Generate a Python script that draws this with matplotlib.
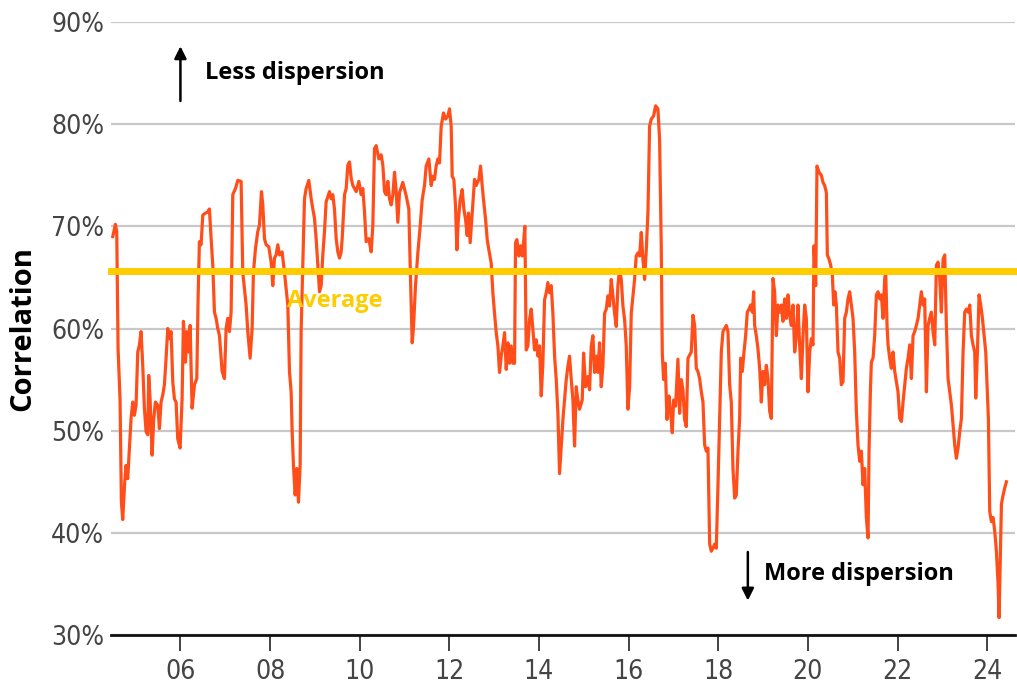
import matplotlib.pyplot as plt
from matplotlib.ticker import FuncFormatter

# rolling correlation (decimal year, percent)
dates = [
    2004.490, 2004.549, 2004.579, 2004.609, 2004.653, 2004.683, 2004.713, 2004.757, 2004.787, 2004.824,
    2004.862, 2004.899, 2004.936, 2004.973, 2005.010, 2005.048, 2005.085, 2005.122, 2005.159, 2005.196,
    2005.234, 2005.271, 2005.293, 2005.323, 2005.368, 2005.405, 2005.442, 2005.494, 2005.531, 2005.568,
    2005.606, 2005.643, 2005.680, 2005.717, 2005.754, 2005.792, 2005.829, 2005.866, 2005.903, 2005.940,
    2005.993, 2006.037, 2006.067, 2006.112, 2006.141, 2006.186, 2006.216, 2006.260, 2006.313, 2006.365,
    2006.394, 2006.424, 2006.461, 2006.499, 2006.558, 2006.610, 2006.647, 2006.685, 2006.722, 2006.759,
    2006.796, 2006.833, 2006.871, 2006.930, 2006.982, 2007.019, 2007.057, 2007.094, 2007.131, 2007.168,
    2007.228, 2007.280, 2007.354, 2007.391, 2007.429, 2007.466, 2007.503, 2007.555, 2007.600, 2007.629,
    2007.674, 2007.726, 2007.763, 2007.808, 2007.838, 2007.875, 2007.912, 2007.972, 2008.024, 2008.061,
    2008.098, 2008.135, 2008.173, 2008.210, 2008.269, 2008.321, 2008.359, 2008.396, 2008.433, 2008.470,
    2008.493, 2008.522, 2008.560, 2008.597, 2008.634, 2008.671, 2008.693, 2008.731, 2008.768, 2008.805,
    2008.865, 2008.917, 2008.954, 2008.991, 2009.028, 2009.065, 2009.103, 2009.140, 2009.177, 2009.214,
    2009.251, 2009.326, 2009.363, 2009.400, 2009.437, 2009.475, 2009.512, 2009.549, 2009.586, 2009.609,
    2009.661, 2009.698, 2009.735, 2009.772, 2009.810, 2009.847, 2009.921, 2009.981, 2010.033, 2010.070,
    2010.107, 2010.144, 2010.204, 2010.256, 2010.293, 2010.330, 2010.368, 2010.427, 2010.479, 2010.516,
    2010.554, 2010.591, 2010.628, 2010.665, 2010.702, 2010.740, 2010.777, 2010.814, 2010.851,
    2010.888, 2010.962, 2011.037, 2011.096, 2011.134, 2011.171, 2011.201, 2011.245, 2011.297, 2011.349,
    2011.394, 2011.446, 2011.483, 2011.543, 2011.595, 2011.632, 2011.669, 2011.706, 2011.744, 2011.781,
    2011.818, 2011.870, 2011.915, 2011.967, 2012.004, 2012.041, 2012.064, 2012.101, 2012.138, 2012.168,
    2012.197, 2012.242, 2012.287, 2012.324, 2012.361, 2012.398, 2012.428, 2012.465, 2012.510, 2012.562,
    2012.599, 2012.659, 2012.696, 2012.733, 2012.763, 2012.808, 2012.845, 2012.882, 2012.934, 2012.971,
    2013.008, 2013.046, 2013.083, 2013.120, 2013.157, 2013.194, 2013.232, 2013.269, 2013.306, 2013.343,
    2013.380, 2013.418, 2013.455, 2013.477, 2013.507, 2013.552, 2013.589, 2013.626, 2013.656, 2013.685,
    2013.715, 2013.752, 2013.790, 2013.827, 2013.864, 2013.901, 2013.938, 2013.976, 2014.013, 2014.050,
    2014.087, 2014.124, 2014.162, 2014.199, 2014.236, 2014.273, 2014.310, 2014.348, 2014.385, 2014.422,
    2014.459, 2014.496, 2014.534, 2014.571, 2014.608, 2014.645, 2014.682, 2014.720, 2014.757, 2014.794,
    2014.831, 2014.868, 2014.906, 2014.965, 2014.995, 2015.040, 2015.092, 2015.129, 2015.166, 2015.203,
    2015.240, 2015.278, 2015.315, 2015.352, 2015.389, 2015.426, 2015.464, 2015.501, 2015.538, 2015.575,
    2015.612, 2015.650, 2015.687, 2015.724, 2015.761, 2015.798, 2015.836, 2015.873, 2015.910, 2015.947,
    2015.984, 2016.022, 2016.059, 2016.096, 2016.133, 2016.170, 2016.208, 2016.245, 2016.282, 2016.319,
    2016.356, 2016.394, 2016.431, 2016.468, 2016.505, 2016.557, 2016.602, 2016.654, 2016.691, 2016.728,
    2016.751, 2016.780, 2016.818, 2016.855, 2016.900, 2016.929, 2016.974, 2017.004, 2017.048, 2017.100,
    2017.138, 2017.175, 2017.212, 2017.249, 2017.286,
    2017.324, 2017.398, 2017.436, 2017.473, 2017.510, 2017.547, 2017.584, 2017.622, 2017.659, 2017.696,
    2017.733, 2017.770, 2017.808, 2017.845, 2017.882, 2017.919, 2017.956, 2017.994, 2018.031, 2018.068,
    2018.105, 2018.142, 2018.180, 2018.217, 2018.254, 2018.291, 2018.328, 2018.366, 2018.403, 2018.440,
    2018.477, 2018.500, 2018.537, 2018.574, 2018.611, 2018.648, 2018.686, 2018.723, 2018.760, 2018.790,
    2018.812, 2018.849, 2018.886, 2018.924, 2018.961, 2018.998, 2019.035, 2019.072, 2019.110, 2019.147,
    2019.184, 2019.221, 2019.258, 2019.296, 2019.333, 2019.370, 2019.407, 2019.444, 2019.482, 2019.519,
    2019.556, 2019.593, 2019.630, 2019.668, 2019.705, 2019.742, 2019.779, 2019.816, 2019.854, 2019.891,
    2019.928, 2019.965, 2020.002, 2020.040, 2020.077, 2020.114, 2020.136, 2020.174, 2020.203, 2020.248,
    2020.300, 2020.337, 2020.374, 2020.412, 2020.434, 2020.471, 2020.508, 2020.546, 2020.575, 2020.605,
    2020.635, 2020.672, 2020.709, 2020.746, 2020.784, 2020.821, 2020.858, 2020.895, 2020.932, 2020.970,
    2021.007, 2021.044, 2021.081, 2021.118, 2021.156, 2021.193, 2021.230, 2021.267, 2021.304, 2021.342,
    2021.364, 2021.394, 2021.416, 2021.453, 2021.490, 2021.528, 2021.565, 2021.602, 2021.639, 2021.676,
    2021.714, 2021.736, 2021.766, 2021.788, 2021.825, 2021.862, 2021.900, 2021.937, 2021.974, 2022.011,
    2022.048, 2022.086, 2022.123, 2022.160, 2022.197, 2022.234, 2022.272, 2022.309, 2022.346, 2022.383,
    2022.420, 2022.458, 2022.495, 2022.532, 2022.569, 2022.606, 2022.644, 2022.681, 2022.718, 2022.755,
    2022.792, 2022.830, 2022.867, 2022.904, 2022.941, 2022.978, 2023.016, 2023.053, 2023.090, 2023.127,
    2023.164, 2023.202, 2023.239, 2023.276, 2023.313, 2023.350, 2023.388, 2023.425, 2023.462, 2023.499,
    2023.536, 2023.574, 2023.611, 2023.648, 2023.685, 2023.722, 2023.745, 2023.782, 2023.819, 2023.856,
    2023.894, 2023.931, 2023.968, 2023.998, 2024.027, 2024.057, 2024.094, 2024.131, 2024.168, 2024.206,
    2024.243, 2024.265, 2024.295, 2024.318, 2024.355, 2024.392, 2024.429,
]
correlation = [
    69.0, 70.2, 69.5, 58.0, 53.0, 43.0, 41.3, 45.0, 46.6, 45.3,
    48.3, 51.2, 52.8, 51.5, 52.5, 57.7, 58.4, 59.7, 56.4, 52.2,
    49.9, 49.6, 55.4, 53.1, 47.6, 51.2, 52.8, 52.5, 50.2, 52.8,
    53.5, 54.5, 57.1, 60.0, 59.0, 59.7, 54.8, 53.1, 52.8, 49.2,
    48.3, 53.1, 60.7, 56.7, 59.7, 57.7, 60.3, 52.2, 54.5, 55.1,
    62.9, 68.5, 68.2, 71.1, 71.3, 71.4, 71.7, 68.8, 66.2, 61.6,
    61.0, 60.0, 59.3, 55.8, 55.1, 60.0, 61.0, 59.7, 61.6, 73.1,
    73.7, 74.5, 74.4, 65.5, 63.9, 62.3, 59.7, 57.1, 60.0, 65.5,
    67.8, 69.5, 70.1, 73.4, 72.1, 68.8, 68.2, 68.0, 66.5, 64.2,
    66.9, 67.2, 68.2, 67.2, 67.5, 65.5, 63.9, 62.3, 55.8, 53.8,
    49.9, 46.6, 43.7, 46.3, 43.0, 46.6, 59.7, 66.2, 72.7, 73.7,
    74.5, 72.7, 71.7, 70.8, 68.8, 66.2, 63.6, 64.2, 67.2, 69.5,
    72.4, 73.4, 72.7, 73.1, 71.7, 68.8, 67.5, 66.9, 67.5, 68.8,
    73.1, 73.7, 76.0, 76.3, 74.7, 74.0, 73.4, 74.4, 73.1, 73.7,
    71.4, 68.5, 68.8, 67.5, 70.1, 77.6, 77.9, 76.6, 77.0, 76.0,
    73.4, 73.1, 74.4, 72.7, 72.1, 73.1, 75.3, 73.4, 70.4,
    73.3, 74.3, 73.0, 71.7, 64.8, 58.6, 60.2, 64.2, 67.4, 70.0,
    72.6, 74.0, 75.9, 76.6, 74.0, 74.9, 74.6, 75.9, 76.6, 76.2,
    79.8, 81.1, 80.5, 80.8, 81.5, 79.8, 74.9, 74.6, 72.0, 67.7,
    70.4, 72.6, 73.6, 71.7, 70.7, 69.1, 71.3, 68.4, 71.3, 74.6,
    74.0, 74.6, 75.9, 74.0, 72.6, 70.7, 68.7, 67.7, 66.4, 63.5,
    61.5, 59.6, 58.3, 55.7, 57.3, 58.3, 59.6, 56.0, 58.6, 56.6,
    58.3, 56.6, 56.6, 68.4, 68.7, 67.1, 68.1, 67.1, 68.4, 70.0,
    57.9, 58.3, 60.9, 61.9, 59.9, 57.9, 58.9, 57.3, 58.3, 53.4,
    56.6, 62.8, 63.5, 64.5, 63.5, 64.2, 61.5, 57.3, 55.0, 51.7,
    45.8, 48.5, 51.1, 53.0, 55.0, 56.3, 57.3, 55.0, 53.0, 48.5,
    54.3, 53.0, 52.1, 53.0, 57.6, 54.3, 55.3, 54.0, 58.3, 59.3,
    55.7, 57.3, 55.7, 58.6, 54.3, 56.3, 61.5, 61.9, 63.2, 62.2,
    64.8, 63.2, 61.5, 60.2, 64.2, 65.8, 64.8, 62.2, 60.9, 58.3,
    52.1, 54.3, 61.5, 63.2, 64.8, 67.1, 67.4, 67.1, 69.4, 66.8,
    64.8, 67.7, 71.3, 79.8, 80.5, 80.8, 81.8, 81.5, 78.5, 68.1,
    57.6, 55.0, 56.6, 51.1, 53.4, 52.1, 49.8, 53.0, 52.4, 57.0,
    51.7, 55.0, 54.0, 51.1, 50.4,
    57.1, 57.7, 61.3, 60.3, 56.1, 55.8, 55.1, 53.8, 52.8, 48.6,
    48.0, 48.3, 38.9, 38.2, 38.5, 38.9, 38.5, 44.7, 51.2, 57.7,
    59.7, 60.0, 60.3, 59.7, 54.5, 52.8, 46.3, 43.4, 43.7, 48.0,
    51.2, 57.1, 55.8, 57.7, 59.3, 61.6, 61.9, 62.3, 61.6, 63.6,
    60.3, 59.3, 58.0, 56.1, 52.8, 55.8, 54.5, 56.4, 55.1, 51.9,
    51.2, 64.9, 63.6, 59.3, 62.3, 61.6, 62.3, 60.7, 62.9, 61.0,
    63.3, 61.3, 60.3, 62.3, 57.7, 59.3, 62.3, 58.4, 55.1, 59.3,
    62.3, 61.0, 53.8, 57.7, 59.0, 58.4, 68.1, 64.2, 75.9, 75.3,
    75.0, 74.3, 74.0, 73.3, 67.2, 66.8, 66.2, 65.2, 62.3, 63.6,
    62.3, 57.7, 57.1, 54.5, 54.8, 61.0, 61.6, 62.9, 63.6, 62.3,
    61.0, 57.7, 51.9, 48.6, 47.0, 48.0, 44.7, 46.3, 41.5, 39.5,
    48.0, 53.8, 56.7, 57.1, 59.3, 63.3, 63.6, 62.9, 63.3, 61.0,
    64.9, 65.5, 60.3, 58.4, 57.1, 56.1, 57.7, 55.8, 54.8, 53.8,
    51.2, 50.9, 52.8, 54.5, 56.1, 57.1, 58.4, 55.1, 59.3, 59.7,
    60.3, 61.0, 62.3, 63.6, 62.3, 62.9, 53.8, 60.3, 61.0, 61.6,
    59.7, 58.4, 66.2, 66.5, 64.9, 61.6, 66.8, 67.2, 60.3, 55.1,
    53.8, 52.5, 50.6, 48.6, 47.3, 48.3, 49.9, 51.2, 57.7, 61.6,
    61.9, 61.6, 62.3, 59.3, 58.4, 57.7, 53.2, 57.7, 63.3, 62.3,
    61.0, 59.3, 57.7, 54.5, 51.2, 42.1, 41.1, 41.5, 40.2, 38.2,
    35.0, 31.7, 38.2, 42.8, 43.7, 44.4, 45.0,
]
average = 65.6

year_ticks = [2006, 2008, 2010, 2012, 2014, 2016, 2018, 2020, 2022, 2024]
pct_ticks = [30, 40, 50, 60, 70, 80, 90]

tick_font = ['DejaVu Sans Condensed', 'Liberation Sans Narrow', 'DejaVu Sans']
bold_font = 'Open Sans'

fig = plt.figure(figsize=(10.17, 6.88), dpi=100)
ax = fig.add_axes([0.1091, 0.0770, 0.8889, 0.8910])

ax.plot(dates, correlation, color='#FF4E1A', lw=2.3, zorder=3)
ax.axhline(average, color='#FFCC00', lw=5, zorder=4, clip_on=False)

ax.set_xlim(2004.45, 2024.62)
ax.set_ylim(30, 90)
ax.set_xticks(year_ticks)
ax.set_xticklabels(['%02d' % (y % 100) for y in year_ticks])
ax.set_yticks(pct_ticks)
ax.yaxis.set_major_formatter(FuncFormatter(lambda v, p: '%d%%' % v))

ax.grid(axis='y', color='#c8c8c8', lw=1.6, zorder=0)
ax.set_axisbelow(True)
for s in ['top', 'right', 'left']:
    ax.spines[s].set_visible(False)
ax.spines['bottom'].set_linewidth(2)
ax.spines['bottom'].set_color('#111111')
ax.spines['bottom'].set_zorder(5)

ax.tick_params(axis='x', length=11.5, width=1.2, color='#222222', pad=6)
ax.tick_params(axis='y', length=0, pad=5)
for lab in ax.get_xticklabels() + ax.get_yticklabels():
    lab.set_family(tick_font)
    lab.set_stretch('condensed')
    lab.set_fontsize(19)
    lab.set_color('#444444')

ax.set_ylabel('Correlation', fontsize=21, fontweight='bold', family=bold_font, labelpad=10)

# annotations
ax.annotate('', xy=(2006, 87.9), xytext=(2006, 82.0),
            arrowprops=dict(arrowstyle='-|>', color='black', lw=1.8, mutation_scale=18))
ax.text(2006.54, 85.0, 'Less dispersion', fontsize=17, fontweight='bold', family=bold_font,
        va='center', ha='left')
ax.annotate('', xy=(2018.66, 33.1), xytext=(2018.66, 38.4),
            arrowprops=dict(arrowstyle='-|>', color='black', lw=1.8, mutation_scale=18))
ax.text(2019.01, 36.0, 'More dispersion', fontsize=17, fontweight='bold', family=bold_font,
        va='center', ha='left')
ax.text(2008.37, 62.7, 'Average', fontsize=17, fontweight='bold', family=bold_font,
        color='#FFCC00', va='center', ha='left', zorder=6)

fig.savefig('out.png', dpi=100)
